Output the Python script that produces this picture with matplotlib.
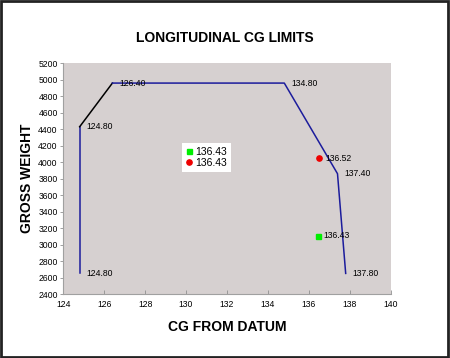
import matplotlib.pyplot as plt
from matplotlib.patches import Rectangle

plt.rcParams["font.family"] = ["Liberation Sans", "DejaVu Sans"]

# envelope, forward part (black) and the rest (blue)
fwd_x = [124.8, 126.4]
fwd_y = [4430, 4960]
env_x = [124.8, 124.8]
env_y = [2650, 4430]
limit_x = [126.4, 134.8, 137.4, 137.8]
limit_y = [4960, 4960, 3860, 2650]
corner_x = [124.8, 124.8, 126.4, 134.8, 137.4, 137.8]
corner_y = [2650, 4430, 4960, 4960, 3860, 2650]
corner_labels = ["124.80", "124.80", "126.40", "134.80", "137.40", "137.80"]

green_x = [136.43]
green_y = [3110]
red_x = [136.52]
red_y = [4050]
green_label = "136.43"
red_label = "136.52"
legend_labels = ["136.43", "136.43"]

fig = plt.figure(figsize=(4.5, 3.58), dpi=100)
fig.patch.set_facecolor("white")
ax = fig.add_axes([63.3 / 450, 1 - 294 / 358, (390.7 - 63.3) / 450, (294 - 63.3) / 358])
ax.set_facecolor("#d6d0d0")

ax.plot(env_x, env_y, color="#1c1c9c", lw=1.1)
ax.plot(fwd_x, fwd_y, color="black", lw=1.1)
ax.plot(limit_x, limit_y, color="#1c1c9c", lw=1.1)
g, = ax.plot(green_x, green_y, "s", color="#00ee00", ms=3.6, label=legend_labels[0])
r, = ax.plot(red_x, red_y, "o", color="#ee0000", ms=3.8, label=legend_labels[1])

for x, y, t in zip(corner_x, corner_y, corner_labels):
    ax.annotate(t, (x, y), xytext=(5, 0), textcoords="offset points",
                va="center", ha="left", fontsize=6.2)
ax.annotate(green_label, (green_x[0], green_y[0]), xytext=(4, 0), textcoords="offset points",
            va="center", ha="left", fontsize=6.2)
ax.annotate(red_label, (red_x[0], red_y[0]), xytext=(4, 0), textcoords="offset points",
            va="center", ha="left", fontsize=6.2)

leg = ax.legend(handles=[g, r], loc="upper left", bbox_to_anchor=(0.363, 0.655),
                fontsize=7.5, frameon=True, fancybox=False, framealpha=1,
                handlelength=0.6, handletextpad=0.3, borderpad=0.35,
                labelspacing=0.15, borderaxespad=0)
leg.get_frame().set_edgecolor("white")
leg.get_frame().set_linewidth(0)

ax.set_xlim(124, 140)
ax.set_ylim(2400, 5200)
ax.set_xticks(range(124, 141, 2))
ax.set_yticks(range(2400, 5201, 200))
ax.tick_params(labelsize=6.2, color="#909090", width=0.6)
ax.tick_params(axis="x", direction="in", length=3, pad=4)
ax.tick_params(axis="y", direction="out", length=2, pad=2)
for s in ["top", "right"]:
    ax.spines[s].set_visible(False)
for s in ["left", "bottom"]:
    ax.spines[s].set_color("#a0a0a0")
    ax.spines[s].set_linewidth(0.8)

fig.text(0.5, 1 - 38 / 358, "LONGITUDINAL CG LIMITS", ha="center", va="center",
         fontsize=10, fontweight="bold")
fig.text(227 / 450, 1 - 327 / 358, "CG FROM DATUM", ha="center", va="center",
         fontsize=10, fontweight="bold")
fig.text(27 / 450, 1 - 178 / 358, "GROSS WEIGHT", ha="center", va="center",
         rotation=90, fontsize=10, fontweight="bold")

fig.patches.append(Rectangle((0.002, 0.003), 0.994, 0.994, transform=fig.transFigure,
                             fill=False, edgecolor="#222222", lw=2))

fig.savefig("out.png", dpi=100)
